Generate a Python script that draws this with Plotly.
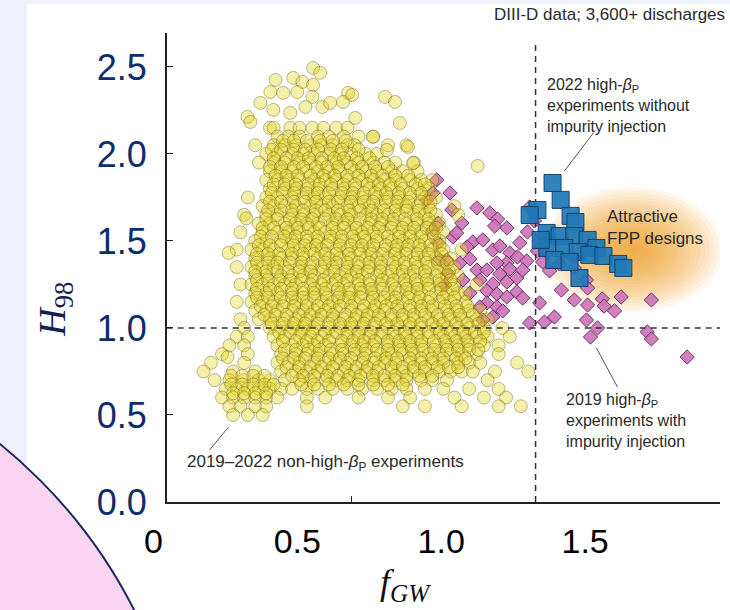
import plotly.graph_objects as go

# ---------------- data ----------------
# yellow: 2019-2022 non-high-beta_P discharges (dense cloud, read row by row)
yellow_row_h = [2.15, 2.10, 2.05, 2.00, 1.95, 1.90, 1.85, 1.80, 1.75, 1.70, 1.65, 1.60,
                1.55, 1.50, 1.45, 1.40, 1.35, 1.30, 1.25, 1.20, 1.15, 1.10, 1.05, 1.00,
                0.95, 0.90, 0.85, 0.80, 0.75, 0.70, 0.65, 0.60, 0.55, 0.50]
yellow_row_f = [
    [0.28, 0.29, 0.335, 0.36, 0.395, 0.425, 0.46, 0.49],
    [0.30, 0.33, 0.36, 0.41, 0.44, 0.48, 0.52, 0.56],
    [0.24, 0.29, 0.32, 0.35, 0.39, 0.42, 0.45, 0.49, 0.51, 0.60, 0.65],
    [0.27, 0.30, 0.34, 0.37, 0.40, 0.44, 0.47, 0.50, 0.54, 0.57],
    [0.25, 0.29, 0.32, 0.36, 0.39, 0.42, 0.46, 0.49, 0.52, 0.56, 0.59, 0.62, 0.67],
    [0.28, 0.31, 0.34, 0.38, 0.41, 0.44, 0.47, 0.51, 0.54, 0.57, 0.61, 0.64, 0.68],
    [0.27, 0.30, 0.33, 0.36, 0.40, 0.43, 0.46, 0.49, 0.53, 0.56, 0.59, 0.62, 0.66, 0.69, 0.72],
    [0.28, 0.32, 0.35, 0.38, 0.41, 0.45, 0.48, 0.51, 0.55, 0.58, 0.61, 0.64, 0.68, 0.71],
    [0.22, 0.27, 0.30, 0.34, 0.37, 0.40, 0.43, 0.47, 0.50, 0.53, 0.57, 0.60, 0.63, 0.66, 0.70, 0.73],
    [0.26, 0.29, 0.32, 0.35, 0.39, 0.42, 0.45, 0.49, 0.52, 0.55, 0.58, 0.62, 0.65, 0.68, 0.71, 0.78],
    [0.21, 0.27, 0.30, 0.34, 0.37, 0.40, 0.44, 0.47, 0.50, 0.54, 0.57, 0.60, 0.63, 0.67, 0.70, 0.73, 0.79],
    [0.25, 0.28, 0.32, 0.35, 0.38, 0.41, 0.45, 0.48, 0.51, 0.55, 0.58, 0.61, 0.65, 0.68, 0.71, 0.74],
    [0.20, 0.26, 0.30, 0.33, 0.36, 0.40, 0.43, 0.46, 0.50, 0.53, 0.56, 0.59, 0.63, 0.66, 0.69, 0.72, 0.75],
    [0.24, 0.27, 0.31, 0.34, 0.38, 0.41, 0.44, 0.47, 0.51, 0.54, 0.57, 0.61, 0.64, 0.67, 0.70, 0.74],
    [0.19, 0.23, 0.26, 0.29, 0.33, 0.36, 0.39, 0.42, 0.46, 0.49, 0.52, 0.55, 0.59, 0.62, 0.65, 0.69, 0.72, 0.75, 0.80],
    [0.24, 0.28, 0.31, 0.34, 0.37, 0.41, 0.44, 0.47, 0.50, 0.54, 0.57, 0.60, 0.63, 0.67, 0.70, 0.73, 0.77],
    [0.19, 0.23, 0.26, 0.29, 0.32, 0.36, 0.39, 0.42, 0.45, 0.49, 0.52, 0.55, 0.58, 0.62, 0.65, 0.68, 0.71, 0.75, 0.78],
    [0.24, 0.27, 0.31, 0.34, 0.37, 0.40, 0.44, 0.47, 0.50, 0.53, 0.57, 0.60, 0.63, 0.66, 0.70, 0.73, 0.76, 0.79],
    [0.20, 0.23, 0.26, 0.29, 0.32, 0.35, 0.39, 0.42, 0.45, 0.48, 0.52, 0.55, 0.58, 0.61, 0.65, 0.68, 0.71, 0.74, 0.78, 0.84],
    [0.24, 0.27, 0.30, 0.34, 0.37, 0.40, 0.43, 0.47, 0.50, 0.53, 0.56, 0.60, 0.63, 0.66, 0.69, 0.73, 0.76, 0.79, 0.81],
    [0.19, 0.23, 0.26, 0.29, 0.32, 0.35, 0.38, 0.42, 0.45, 0.48, 0.51, 0.55, 0.58, 0.61, 0.64, 0.68, 0.71, 0.74, 0.77, 0.81],
    [0.24, 0.27, 0.30, 0.34, 0.37, 0.40, 0.43, 0.46, 0.50, 0.53, 0.56, 0.59, 0.63, 0.66, 0.69, 0.72, 0.76, 0.79, 0.82, 0.85],
    [0.20, 0.25, 0.28, 0.32, 0.35, 0.38, 0.41, 0.45, 0.48, 0.51, 0.54, 0.58, 0.61, 0.64, 0.67, 0.71, 0.74, 0.77, 0.80, 0.84, 0.87],
    [0.21, 0.28, 0.31, 0.34, 0.37, 0.40, 0.44, 0.47, 0.50, 0.53, 0.56, 0.60, 0.63, 0.66, 0.69, 0.73, 0.76, 0.79, 0.82, 0.86, 0.91],
    [0.19, 0.22, 0.29, 0.32, 0.36, 0.39, 0.42, 0.45, 0.49, 0.52, 0.55, 0.58, 0.62, 0.65, 0.68, 0.71, 0.75, 0.78, 0.81, 0.84, 0.87, 0.93],
    [0.17, 0.21, 0.30, 0.34, 0.37, 0.40, 0.43, 0.47, 0.50, 0.53, 0.56, 0.60, 0.63, 0.66, 0.69, 0.73, 0.76, 0.79, 0.82, 0.86, 0.90],
    [0.15, 0.22, 0.31, 0.35, 0.38, 0.41, 0.45, 0.48, 0.51, 0.54, 0.58, 0.61, 0.64, 0.67, 0.71, 0.74, 0.77, 0.80, 0.84, 0.90],
    [0.12, 0.21, 0.30, 0.33, 0.36, 0.40, 0.43, 0.46, 0.49, 0.53, 0.56, 0.59, 0.62, 0.66, 0.69, 0.72, 0.75, 0.79, 0.82, 0.85, 0.95],
    [0.10, 0.18, 0.24, 0.31, 0.35, 0.38, 0.41, 0.44, 0.48, 0.51, 0.54, 0.57, 0.61, 0.64, 0.67, 0.70, 0.74, 0.77, 0.80, 0.83, 0.89, 0.98],
    [0.13, 0.17, 0.21, 0.25, 0.28, 0.32, 0.36, 0.39, 0.43, 0.46, 0.49, 0.52, 0.56, 0.59, 0.62, 0.65, 0.69, 0.72, 0.76, 0.87],
    [0.16, 0.19, 0.22, 0.25, 0.28, 0.31, 0.34, 0.38, 0.41, 0.45, 0.49, 0.53, 0.57, 0.61, 0.65, 0.70, 0.75, 0.82, 0.90],
    [0.15, 0.18, 0.21, 0.24, 0.27, 0.30, 0.38, 0.43, 0.52, 0.60, 0.66, 0.78, 0.86, 0.92],
    [0.17, 0.20, 0.24, 0.27, 0.38, 0.64, 0.70, 0.80, 0.90, 0.96],
    [0.18, 0.22, 0.26],
]
# second (in-between) rows of the crowded core of the cloud
yellow_core_h = [2.075, 2.025, 1.975, 1.925, 1.875, 1.825, 1.775, 1.725, 1.675, 1.625,
                 1.575, 1.525, 1.475, 1.425, 1.375, 1.325, 1.275, 1.225, 1.175, 1.125,
                 1.075, 1.025, 0.975, 0.925, 0.875, 0.825, 0.775, 0.725, 0.675, 0.625]
yellow_core_f = [
    [0.315, 0.345, 0.38, 0.415, 0.45, 0.485],
    [0.285, 0.31, 0.345, 0.375, 0.41, 0.445, 0.475, 0.52],
    [0.29, 0.325, 0.355, 0.385, 0.42, 0.455, 0.48, 0.515, 0.55],
    [0.28, 0.31, 0.345, 0.37, 0.405, 0.435, 0.465, 0.50, 0.53, 0.565, 0.60],
    [0.295, 0.325, 0.355, 0.39, 0.425, 0.455, 0.49, 0.52, 0.555, 0.585, 0.62, 0.655],
    [0.29, 0.32, 0.35, 0.385, 0.415, 0.445, 0.48, 0.51, 0.545, 0.575, 0.605, 0.635, 0.675, 0.70],
    [0.285, 0.315, 0.345, 0.38, 0.41, 0.44, 0.475, 0.505, 0.535, 0.565, 0.595, 0.63, 0.66, 0.69],
    [0.28, 0.31, 0.345, 0.375, 0.405, 0.44, 0.465, 0.50, 0.535, 0.56, 0.595, 0.625, 0.655, 0.69, 0.715],
    [0.275, 0.31, 0.34, 0.37, 0.405, 0.43, 0.465, 0.495, 0.525, 0.555, 0.59, 0.62, 0.65, 0.685, 0.715],
    [0.27, 0.30, 0.335, 0.365, 0.395, 0.43, 0.46, 0.49, 0.525, 0.555, 0.585, 0.615, 0.645, 0.68, 0.71],
    [0.26, 0.29, 0.325, 0.355, 0.385, 0.415, 0.45, 0.48, 0.515, 0.545, 0.575, 0.61, 0.64, 0.67, 0.705, 0.73],
    [0.255, 0.285, 0.32, 0.35, 0.38, 0.41, 0.445, 0.475, 0.505, 0.535, 0.57, 0.60, 0.63, 0.66, 0.69, 0.725],
    [0.25, 0.28, 0.31, 0.345, 0.375, 0.405, 0.435, 0.47, 0.50, 0.53, 0.56, 0.595, 0.625, 0.655, 0.685, 0.715, 0.74],
    [0.245, 0.275, 0.305, 0.34, 0.37, 0.40, 0.43, 0.46, 0.495, 0.525, 0.555, 0.585, 0.62, 0.65, 0.68, 0.71, 0.745],
    [0.245, 0.275, 0.30, 0.335, 0.365, 0.395, 0.43, 0.46, 0.49, 0.52, 0.55, 0.58, 0.615, 0.645, 0.675, 0.705, 0.735, 0.76],
    [0.24, 0.27, 0.30, 0.33, 0.36, 0.39, 0.425, 0.455, 0.485, 0.515, 0.545, 0.58, 0.61, 0.64, 0.67, 0.70, 0.735, 0.765],
    [0.245, 0.275, 0.305, 0.335, 0.365, 0.395, 0.425, 0.46, 0.49, 0.52, 0.55, 0.585, 0.615, 0.645, 0.675, 0.705, 0.74, 0.77],
    [0.245, 0.28, 0.31, 0.34, 0.37, 0.40, 0.43, 0.465, 0.495, 0.525, 0.555, 0.585, 0.62, 0.65, 0.68, 0.71, 0.745, 0.775],
    [0.245, 0.275, 0.31, 0.34, 0.37, 0.40, 0.435, 0.465, 0.495, 0.525, 0.56, 0.59, 0.62, 0.655, 0.685, 0.715, 0.75, 0.78],
    [0.255, 0.285, 0.315, 0.345, 0.38, 0.41, 0.44, 0.47, 0.50, 0.535, 0.565, 0.595, 0.625, 0.66, 0.69, 0.72, 0.755, 0.785, 0.815],
    [0.265, 0.295, 0.325, 0.36, 0.39, 0.42, 0.45, 0.485, 0.515, 0.545, 0.575, 0.61, 0.64, 0.67, 0.70, 0.735, 0.765, 0.795, 0.83],
    [0.285, 0.315, 0.345, 0.375, 0.41, 0.44, 0.47, 0.50, 0.535, 0.565, 0.595, 0.625, 0.66, 0.69, 0.72, 0.75, 0.785, 0.815, 0.845],
    [0.305, 0.335, 0.365, 0.395, 0.43, 0.46, 0.49, 0.52, 0.555, 0.585, 0.615, 0.645, 0.68, 0.71, 0.74, 0.77, 0.805, 0.835, 0.86],
    [0.315, 0.35, 0.38, 0.41, 0.44, 0.475, 0.505, 0.535, 0.565, 0.60, 0.63, 0.66, 0.69, 0.725, 0.755, 0.785, 0.815, 0.85],
    [0.32, 0.35, 0.385, 0.415, 0.445, 0.475, 0.51, 0.54, 0.57, 0.60, 0.635, 0.665, 0.695, 0.725, 0.76, 0.79, 0.82, 0.845],
    [0.315, 0.345, 0.375, 0.41, 0.44, 0.47, 0.50, 0.535, 0.565, 0.595, 0.625, 0.66, 0.69, 0.72, 0.75, 0.785, 0.81],
    [0.325, 0.36, 0.39, 0.42, 0.45, 0.485, 0.515, 0.545, 0.575, 0.61, 0.64, 0.67, 0.70, 0.735, 0.765, 0.79],
    [0.175, 0.205, 0.235, 0.265, 0.34, 0.37, 0.40, 0.435, 0.465, 0.495, 0.525, 0.56, 0.59, 0.62, 0.65, 0.685, 0.72],
    [0.175, 0.205, 0.235, 0.265, 0.29, 0.365, 0.40, 0.44, 0.48, 0.52, 0.56, 0.60, 0.64],
    [0.18, 0.21, 0.24, 0.27],
]
yellow_extra_f = [0.397, 0.416, 0.295, 0.343, 0.368, 0.397, 0.492, 0.478, 0.503, 0.281,
                  0.316, 0.354, 0.395, 0.376, 0.422, 0.254, 0.219, 0.227, 0.289, 0.335,
                  0.443, 0.592, 0.619, 0.511, 0.632, 0.559, 0.654, 0.843, 0.668, 0.597,
                  0.168, 0.216, 0.165]
yellow_extra_h = [2.494, 2.466, 2.425, 2.437, 2.414, 2.397, 2.351, 2.299, 2.339, 2.356,
                  2.351, 2.356, 2.328, 2.270, 2.270, 2.293, 2.213, 2.184, 2.253, 2.236,
                  2.293, 2.328, 2.299, 2.207, 2.178, 2.098, 2.040, 1.931, 1.948, 2.023,
                  1.431, 1.630, 0.833]

# pink diamonds: 2019 high-beta_P experiments with impurity injection
diamond_f = [0.732, 0.722, 0.768, 0.773, 0.841, 0.876, 0.897, 0.922, 0.889, 0.800,
             0.830, 0.857, 0.884, 0.903, 0.930, 0.957, 0.978, 0.984, 0.997, 0.951,
             0.976, 0.922, 0.895, 0.814, 0.776, 0.741, 0.841, 0.868, 0.903, 0.930,
             0.949, 0.965, 0.922, 0.884, 0.868, 0.895, 0.922, 0.949, 0.965, 0.895,
             0.911, 0.868, 1.011, 1.005, 1.030, 1.019, 1.038, 1.065, 1.070, 1.011,
             1.051, 0.984, 1.024, 0.795, 0.822, 0.762, 0.803, 0.822, 0.849, 0.884,
             0.857, 1.105, 1.105, 1.138, 1.141, 1.105, 1.141, 1.181, 1.186, 1.214,
             1.232, 1.314, 1.138, 1.168, 1.149, 1.303, 1.314, 1.411, 0.735, 0.786,
             0.735, 0.759, 0.849, 0.705, 0.754, 0.722]
diamond_h = [1.851, 1.776, 1.776, 1.678, 1.690, 1.661, 1.626, 1.575, 1.586, 1.603,
             1.494, 1.506, 1.448, 1.471, 1.431, 1.489, 1.552, 1.695, 1.615, 1.408,
             1.385, 1.374, 1.374, 1.466, 1.523, 1.391, 1.333, 1.333, 1.310, 1.339,
             1.287, 1.333, 1.264, 1.253, 1.213, 1.195, 1.178, 1.207, 1.172, 1.121,
             1.098, 1.144, 1.506, 1.443, 1.425, 1.379, 1.328, 1.368, 1.218, 1.144,
             1.063, 1.029, 1.034, 1.374, 1.397, 1.316, 1.276, 1.201, 1.121, 1.063,
             1.046, 1.402, 1.345, 1.276, 1.230, 1.161, 1.132, 1.167, 1.126, 1.098,
             1.178, 1.161, 1.046, 1.000, 0.948, 0.977, 0.937, 0.833, 1.603, 1.546,
             1.489, 1.391, 1.276, 1.736, 1.247, 1.563]

# blue squares: 2022 high-beta_P experiments without impurity injection
square_f = [1.046, 1.068, 1.005, 0.984, 1.095, 1.108, 1.030, 1.065, 1.105, 1.141,
            1.165, 1.032, 1.078, 1.114, 1.146, 1.184, 1.224, 1.238, 1.119, 1.051,
            1.014, 1.092]
square_h = [1.833, 1.736, 1.678, 1.649, 1.644, 1.609, 1.546, 1.529, 1.529, 1.506,
            1.460, 1.460, 1.460, 1.437, 1.420, 1.414, 1.368, 1.345, 1.287, 1.391,
            1.506, 1.379]

# reference levels (Greenwald fraction = 1, H98 = 1)
ref_fgw = 1.0
ref_h98 = 1.0

y_ticks = [0.0, 0.5, 1.0, 1.5, 2.0, 2.5]
y_tick_labels = ["0.0", "0.5", "1.0", "1.5", "2.0", "2.5"]
x_frame_ticks = [0.5, 1.0, 1.5]
x_ticks = [0.0, 0.5, 1.0, 1.5]
x_tick_labels = ["0", "0.5", "1.0", "1.5"]

# ---------------- build ----------------
yellow_f, yellow_h = [], []
for rows_h, rows_f in ((yellow_row_h, yellow_row_f), (yellow_core_h, yellow_core_f)):
    for h, row in zip(rows_h, rows_f):
        for f in row:
            yellow_f.append(f)
            yellow_h.append(h)
yellow_f += yellow_extra_f
yellow_h += yellow_extra_h

SANS = "Liberation Sans, Arial, sans-serif"
SERIF = "Liberation Serif, DejaVu Serif, serif"
TXT = "#2a2a2a"

fig = go.Figure()

fig.add_trace(go.Scatter(
    x=diamond_f, y=diamond_h, mode="markers", hoverinfo="skip", showlegend=False,
    marker=dict(symbol="diamond", size=11, color="rgba(206,116,186,0.92)",
                line=dict(color="rgba(95,38,88,0.9)", width=1))))

fig.add_trace(go.Scatter(
    x=yellow_f, y=yellow_h, mode="markers", hoverinfo="skip", showlegend=False,
    marker=dict(symbol="circle", size=13, color="rgba(226,210,24,0.36)",
                line=dict(color="rgba(100,90,12,0.42)", width=1))))

# dashed reference lines
fig.add_trace(go.Scatter(
    x=[0, 1.5], y=[ref_h98, ref_h98], mode="lines", hoverinfo="skip", showlegend=False,
    line=dict(color="#333333", width=1.5, dash="6px,5px")))
fig.add_trace(go.Scatter(
    x=[ref_fgw, ref_fgw], y=[0, 2.655], mode="lines", hoverinfo="skip", showlegend=False,
    line=dict(color="#333333", width=1.5, dash="6px,5px")))

fig.add_trace(go.Scatter(
    x=square_f, y=square_h, mode="markers", hoverinfo="skip", showlegend=False,
    marker=dict(symbol="square", size=17, color="rgba(30,120,182,0.92)",
                line=dict(color="rgba(14,62,105,0.95)", width=1))))

# dummy trace so the slide's own tick-label axis (x2) exists
fig.add_trace(go.Scatter(x=[None], y=[None], xaxis="x2", yaxis="y",
                         hoverinfo="skip", showlegend=False))

shapes = []
# slide decoration
shapes.append(dict(type="rect", xref="paper", yref="paper", x0=-0.2203, x1=-0.1746,
                   y0=-0.231, y1=1.071, fillcolor="#eef1fb", line=dict(width=0), layer="below"))
shapes.append(dict(type="rect", xref="paper", yref="paper", x0=-0.1746, x1=1.03,
                   y0=1.0618, y1=1.071, fillcolor="#eef1fb", line=dict(width=0), layer="below"))
shapes.append(dict(type="circle", xref="paper", yref="paper", x0=-1.625, x1=0.1,
                   y0=-1.806, y1=0.3646, fillcolor="#fbd4f3",
                   line=dict(color="#1b2a5c", width=2), layer="below"))
# orange glow ("Attractive FPP designs")
gcx, gcy, ga, gb = 1.26, 1.45, 0.25, 0.36
nlay = 20
for k in range(nlay):
    s = 1.0 - k / nlay
    shapes.append(dict(type="circle", xref="x", yref="y",
                       x0=gcx - ga * s, x1=gcx + ga * s, y0=gcy - gb * s, y1=gcy + gb * s,
                       fillcolor="rgba(234,158,28,0.07)", line=dict(width=0), layer="below"))
# leader lines
for (xa, ya, xb, yb) in [(1.078, 1.902, 1.157, 2.121),
                         (1.165, 0.885, 1.222, 0.661),
                         (0.116, 0.299, 0.168, 0.431)]:
    shapes.append(dict(type="line", xref="x", yref="y", x0=xa, y0=ya, x1=xb, y1=yb,
                       line=dict(color="#555555", width=1)))

ann = []
def label(x, y, text, size=16, xanchor="left", xref="x", yref="y"):
    ann.append(dict(x=x, y=y, xref=xref, yref=yref, text=text, showarrow=False,
                    xanchor=xanchor, yanchor="middle", align="left",
                    font=dict(family=SANS, size=size, color=TXT)))

label(1.025, 2.276, "2022 high-<i>β</i><sub>P</sub><br>experiments without<br>impurity injection")
label(1.188, 1.578, "Attractive<br>FPP designs", size=17)
label(1.077, 0.466, "2019 high-<i>β</i><sub>P</sub><br>experiments with<br>impurity injection")
label(0.049, 0.224, "2019–2022 non-high-<i>β</i><sub>P</sub> experiments", size=17)
label(1.0115, 1.0405, "DIII-D data; 3,600+ discharges", size=17, xanchor="right",
      xref="paper", yref="paper")

ann.append(dict(x=-0.171, y=0.41, xref="paper", yref="paper", showarrow=False,
                text="<i>H</i><sub>98</sub>", textangle=-90,
                font=dict(family=SERIF, size=38, color="#16204a")))
ann.append(dict(x=0.467, y=-0.228, xref="paper", yref="paper", showarrow=False,
                text="<i>f</i><sub><i>GW</i></sub>",
                font=dict(family=SERIF, size=36, color="#111111")))

fig.update_layout(
    width=730, height=610,
    margin=dict(l=130, r=10, t=33, b=108, autoexpand=False),
    paper_bgcolor="white", plot_bgcolor="rgba(0,0,0,0)",
    showlegend=False, shapes=shapes, annotations=ann,
    xaxis=dict(domain=[0.0622, 1.0], range=[0, 1.5], showline=True, linecolor="#222222",
               linewidth=1.5, ticks="inside", ticklen=6, tickcolor="#222222",
               tickvals=x_frame_ticks, showticklabels=False, showgrid=False, zeroline=False,
               automargin=False),
    xaxis2=dict(domain=[0.0, 1.0], anchor="y", range=[-0.0813, 1.9687], showline=False,
                ticks="", tickvals=x_ticks, ticktext=x_tick_labels, showgrid=False,
                zeroline=False, ticklabelstandoff=16, automargin=False,
                tickfont=dict(family=SANS, size=34, color="#000000")),
    yaxis=dict(range=[0, 2.695], showline=True, linecolor="#222222", linewidth=1.5,
               ticks="inside", ticklen=7, tickcolor="#222222", tickvals=y_ticks,
               ticktext=y_tick_labels, showgrid=False, zeroline=False,
               ticklabelstandoff=11, automargin=False,
               tickfont=dict(family=SANS, size=36, color="#0c2d6b")),
)

# the page's default 8px body margin would shift the figure; remove it
fig.write_html("out.html", config={"displayModeBar": False},
               post_script="document.body.style.margin='0';")
